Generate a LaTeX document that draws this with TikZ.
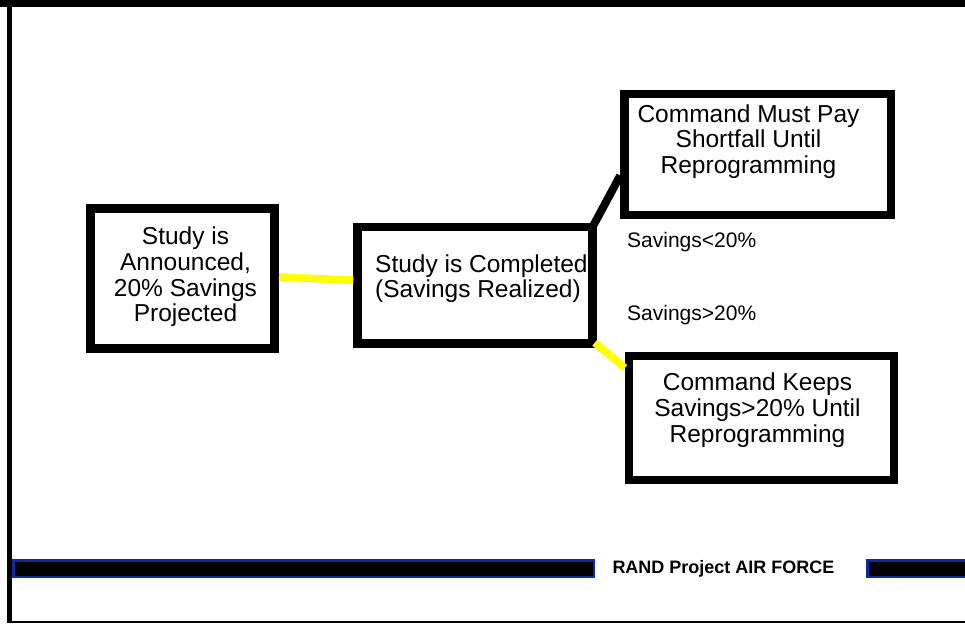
\documentclass[tikz,border=0pt]{standalone}
\usepackage{fontspec}
\setmainfont{Liberation Sans}
\definecolor{randblue}{RGB}{16,40,160}
\definecolor{connyellow}{RGB}{255,255,0}
\begin{document}
\begin{tikzpicture}[x=1pt,y=-1pt,
  box/.style={draw=black, line width=8.5pt, inner sep=0pt},
  boxtxt/.style={font=\fontsize{24.5}{25.8}\selectfont, inner sep=0pt, align=center, anchor=north},
  lbl/.style={font=\fontsize{21}{24}\selectfont, inner sep=0pt, anchor=base west},
  yconn/.style={draw=connyellow, line width=7.5pt},
  bconn/.style={draw=black, line width=8pt},
  bandbar/.style={fill=black, draw=randblue, line width=2.5pt}
]
\useasboundingbox (0,0) rectangle (965,624);
% frame
\fill[black] (0,0) rectangle (965,7);
\fill[black] (6.5,0) rectangle (12,623);
\fill[black] (6.5,621) rectangle (965,623);
% footer bars
\draw[bandbar] (13.25,560.25) rectangle (593.75,576.75);
\draw[bandbar] (867.25,560.25) rectangle (975,576.75);
\node[font=\bfseries\fontsize{18}{20}\selectfont, inner sep=0pt, anchor=base] (rand) at (723.5,573.5) {RAND Project AIR FORCE};
% boxes
\node[box, minimum width=184.4pt, minimum height=140.4pt] (b1) at (182.5,278.5) {};
\node[box, minimum width=235pt, minimum height=116.5pt] (b2) at (475,285.25) {};
\node[box, minimum width=266.5pt, minimum height=121pt] (b3) at (757.75,154.5) {};
\node[box, minimum width=265pt, minimum height=124pt] (b4) at (761.5,418) {};
% connectors
\draw[yconn] ([yshift=1.5pt]b1.east) -- ([yshift=5pt]b2.west);
\draw[bconn] ([xshift=-3pt,yshift=-2pt]b2.north east) -- ([yshift=-21pt]b3.west);
\draw[yconn] ([xshift=-2pt,yshift=5pt]b2.south east) -- ([yshift=50pt]b4.west);
% texts
\node[boxtxt] (t1) at (185.5,226.5) {Study is\\Announced,\\20\% Savings\\Projected};
\node[boxtxt, align=left, anchor=north west] (t2) at (375,254.2) {Study is Completed\\(Savings Realized)};
\node[boxtxt] (t3) at (748.5,104.2) {Command Must Pay\\Shortfall Until\\Reprogramming};
\node[boxtxt] (t4) at (757.5,372.5) {Command Keeps\\Savings>20\% Until\\Reprogramming};
% labels
\node[lbl] (l1) at (627,247) {Savings<20\%};
\node[lbl] (l2) at (627,320) {Savings>20\%};
\end{tikzpicture}
\end{document}
